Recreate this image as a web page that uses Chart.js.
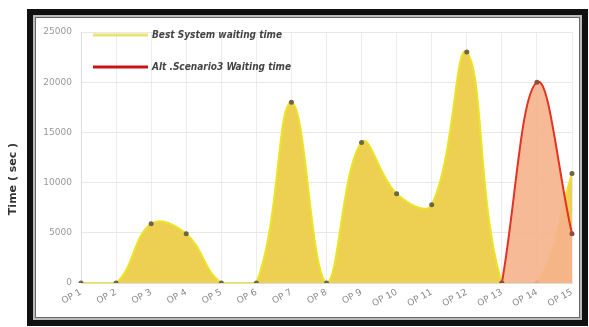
<!DOCTYPE html>
<html>
<head>
<meta charset="utf-8">
<script src="https://cdn.jsdelivr.net/npm/chart.js@4/dist/chart.umd.min.js"></script>
<style>
  body { margin: 0; background: #fff; width: 589px; height: 327px; overflow: hidden; position: relative; }
  #frame {
    position: absolute; left: 27px; top: 9px; width: 561px; height: 317px;
    box-sizing: border-box; border: 6px solid #111;
    box-shadow: inset 0 0 0 2px #bbb, inset 0 0 0 3px #666;
  }
  #chart { position: absolute; left: 0; top: 0; }
</style>
</head>
<body>
<div id="frame"></div>
<canvas id="chart" width="589" height="327"></canvas>
<script>
// categories and series
var opLabels = ['OP 1', 'OP 2', 'OP 3', 'OP 4', 'OP 5', 'OP 6', 'OP 7', 'OP 8',
                'OP 9', 'OP 10', 'OP 11', 'OP 12', 'OP 13', 'OP 14', 'OP 15'];
var bestSystem = [0, 0, 5900, 4900, 0, 0, 18000, 0, 14000, 8900, 7800, 23000, 0, 0, 10900];
var altScenario3 = [null, null, null, null, null, null, null, null, null, null, null, null, 0, 20000, 4900];
var yTicks = [0, 5000, 10000, 15000, 20000, 25000];

var seriesNames = ['Best System waiting time', 'Alt .Scenario3 Waiting time'];
var legendColors = ['rgb(232,230,110)', 'rgb(200,20,20)'];

// legend inside the plot + outer y title
var extras = {
    id: 'extras',
    afterDraw: function(chart) {
        var ctx = chart.ctx;
        ctx.save();
        for (var i = 0; i < seriesNames.length; i++) {
            var y = 35 + i * 32;
            ctx.strokeStyle = legendColors[i];
            ctx.lineWidth = 3;
            ctx.beginPath();
            ctx.moveTo(93, y);
            ctx.lineTo(148, y);
            ctx.stroke();
            ctx.fillStyle = '#444';
            ctx.font = 'italic bold 10px "DejaVu Sans Condensed", "DejaVu Sans", sans-serif';
            ctx.textBaseline = 'middle';
            ctx.textAlign = 'left';
            ctx.fillText(seriesNames[i], 152, y);
        }
        ctx.translate(13, 179);
        ctx.rotate(-Math.PI / 2);
        ctx.fillStyle = '#333';
        ctx.font = 'bold 11px "DejaVu Sans", sans-serif';
        ctx.textAlign = 'center';
        ctx.textBaseline = 'middle';
        ctx.fillText('Time ( sec )', 0, 0);
        ctx.restore();
    }
};

var ctx = document.getElementById('chart').getContext('2d');
var myChart = new Chart(ctx, {
    type: 'line',
    data: {
        labels: opLabels,
        datasets: [{
            label: seriesNames[0],
            data: bestSystem,
            order: 1,
            fill: 'origin',
            tension: 0.4,
            borderColor: 'rgb(236,228,40)',
            borderWidth: 2,
            backgroundColor: 'rgba(236,203,66,0.92)',
            pointRadius: 2.5,
            pointBorderWidth: 0,
            pointBackgroundColor: 'rgb(110,100,70)'
        }, {
            label: seriesNames[1],
            data: altScenario3,
            order: 0,
            fill: 'origin',
            tension: 0.4,
            borderColor: 'rgb(228,50,35)',
            borderWidth: 2,
            backgroundColor: 'rgba(246,178,140,0.9)',
            pointRadius: 2.5,
            pointBorderWidth: 0,
            pointBackgroundColor: 'rgb(140,80,60)'
        }]
    },
    options: {
        responsive: false,
        animation: false,
        devicePixelRatio: 1,
        layout: { padding: { left: 0, top: 32, right: 17, bottom: 0 } },
        plugins: {
            legend: { display: false },
            tooltip: { enabled: false }
        },
        scales: {
            x: {
                offset: false,
                grid: { color: '#ececec', drawTicks: false },
                border: { color: '#ddd' },
                ticks: {
                    autoSkip: false,
                    minRotation: 28,
                    maxRotation: 28,
                    padding: 4,
                    color: '#888',
                    font: { family: 'DejaVu Sans', size: 9 }
                },
                afterFit: function(scale) { scale.height = 44; }
            },
            y: {
                min: 0,
                max: 25000,
                grid: { color: '#e8e8e8', drawTicks: false },
                border: { color: '#ddd' },
                afterBuildTicks: function(scale) {
                    scale.ticks = yTicks.map(function(v) { return { value: v }; });
                },
                ticks: {
                    padding: 9,
                    color: '#999',
                    font: { family: 'DejaVu Sans', size: 9 },
                    callback: function(value) { return String(value); }
                },
                afterFit: function(scale) { scale.width = 81; }
            }
        }
    },
    plugins: [extras]
});
</script>
</body>
</html>
